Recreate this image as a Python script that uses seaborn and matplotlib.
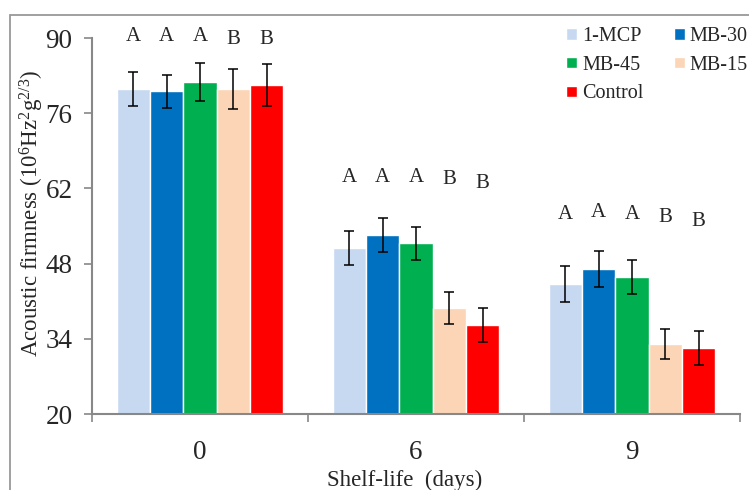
# Acoustic firmness bar chart by treatment and shelf-life
import numpy as np
import pandas as pd
import seaborn as sns
import matplotlib
from matplotlib import pyplot as plt
from matplotlib.patches import Rectangle

matplotlib.use('Agg')

# 데이터
days = ['0', '6', '9']
treatments = ['1-MCP', 'MB-30', 'MB-45', 'MB-15', 'Control']
firmness = [
    [80.5, 80.1, 81.8, 80.5, 81.3],   # day 0
    [50.9, 53.3, 51.8, 39.8, 36.6],   # day 6
    [44.2, 47.0, 45.5, 33.0, 32.3],   # day 9
]
firmness_err = [
    [3.2, 3.1, 3.6, 3.75, 3.9],
    [3.2, 3.1, 3.1, 3.0, 3.2],
    [3.35, 3.4, 3.1, 2.8, 3.2],
]
letters = [
    ['A', 'A', 'A', 'B', 'B'],
    ['A', 'A', 'A', 'B', 'B'],
    ['A', 'A', 'A', 'B', 'B'],
]
letter_y = [
    [90.2, 90.2, 90.2, 89.8, 89.8],
    [64.1, 64.1, 64.1, 63.6, 63.0],
    [57.2, 57.6, 57.2, 56.5, 55.9],
]
colors = ['#C6D9F1', '#0070C0', '#00B050', '#FBD5B5', '#FF0000']
yticks = [20, 34, 48, 62, 76, 90]

rows = []
for i, d in enumerate(days):
    for j, t in enumerate(treatments):
        rows.append({'day': d, 'treatment': t, 'firmness': firmness[i][j]})
df = pd.DataFrame(rows)

sns.set_style('white')
plt.rcParams['font.family'] = ['Liberation Serif', 'DejaVu Serif']
plt.rcParams['mathtext.fontset'] = 'custom'
plt.rcParams['mathtext.rm'] = 'Liberation Serif'
plt.rcParams['mathtext.it'] = 'Liberation Serif:italic'

fig = plt.figure(figsize=(7.49, 4.90), dpi=100)
ax = fig.add_axes([92 / 749, 1 - 414 / 490, 648 / 749, 376 / 490])

sns.barplot(data=df, x='day', y='firmness', hue='treatment',
            order=days, hue_order=treatments,
            palette=dict(zip(treatments, colors)),
            width=0.773, gap=0, errorbar=None, saturation=1,
            ax=ax)

# 오차막대 + 유의성 문자
bar_conts = list(ax.containers)
for j, cont in enumerate(bar_conts):
    for i, bar in enumerate(cont.patches):
        xc = bar.get_x() + bar.get_width() / 2
        ax.errorbar(xc, firmness[i][j], yerr=firmness_err[i][j],
                    fmt='none', ecolor='black', elinewidth=1.1,
                    capsize=3.3, capthick=1.1)
        ax.text(xc, letter_y[i][j], letters[i][j], ha='center', va='center',
                fontsize=15, clip_on=False)

ax.set_ylim(20, 90)
ax.set_xlim(-0.5, 2.5)
ax.set_yticks(yticks)
ax.set_yticklabels([str(v) for v in yticks], fontsize=19.5)
ax.set_xticks([0, 1, 2])
ax.set_xticklabels(days, fontsize=19.5)
ax.set_xticks([-0.5, 0.5, 1.5, 2.5], minor=True)
ax.tick_params(axis='x', which='major', length=0, pad=19)
ax.tick_params(axis='x', which='minor', length=6, width=1.2,
               color='#888888', direction='out', bottom=True)
ax.tick_params(axis='y', length=6, width=1.2, color='#888888',
               direction='out', left=True, pad=8)

for side in ['top', 'right']:
    ax.spines[side].set_visible(False)
for side in ['left', 'bottom']:
    ax.spines[side].set_color('#888888')
    ax.spines[side].set_linewidth(1.5)

ax.set_xlabel('Shelf-life  (days)', fontsize=16.5)
ax.xaxis.set_label_coords(0.483, -0.148)
ax.set_ylabel('Acoustic firmness (10$^6$Hz$^2$g$^{2/3}$)', fontsize=16.5)
ax.yaxis.set_label_coords(-0.071, 0.533)

# 범례 순서: 행 기준으로 보이게
handles, labels = ax.get_legend_handles_labels()
order = [0, 2, 4, 1, 3]
ax.legend([handles[k] for k in order], [labels[k] for k in order],
          ncol=2, frameon=False,
          prop={'family': ['Liberation Serif', 'DejaVu Serif'], 'size': 14.5},
          loc='upper left', bbox_to_anchor=(556 / 749, 1 - 17 / 490),
          bbox_transform=fig.transFigure, borderpad=0,
          handlelength=0.55, handleheight=0.5, handletextpad=0.25,
          columnspacing=1.5, labelspacing=0.48)

# 바깥 테두리
fig.add_artist(Rectangle((10 / 749, -0.1), 1.1, 1 - 15 / 490 + 0.1,
                         transform=fig.transFigure, fill=False,
                         edgecolor='#999999', linewidth=1.3))

fig.savefig('out.png', dpi=100)
